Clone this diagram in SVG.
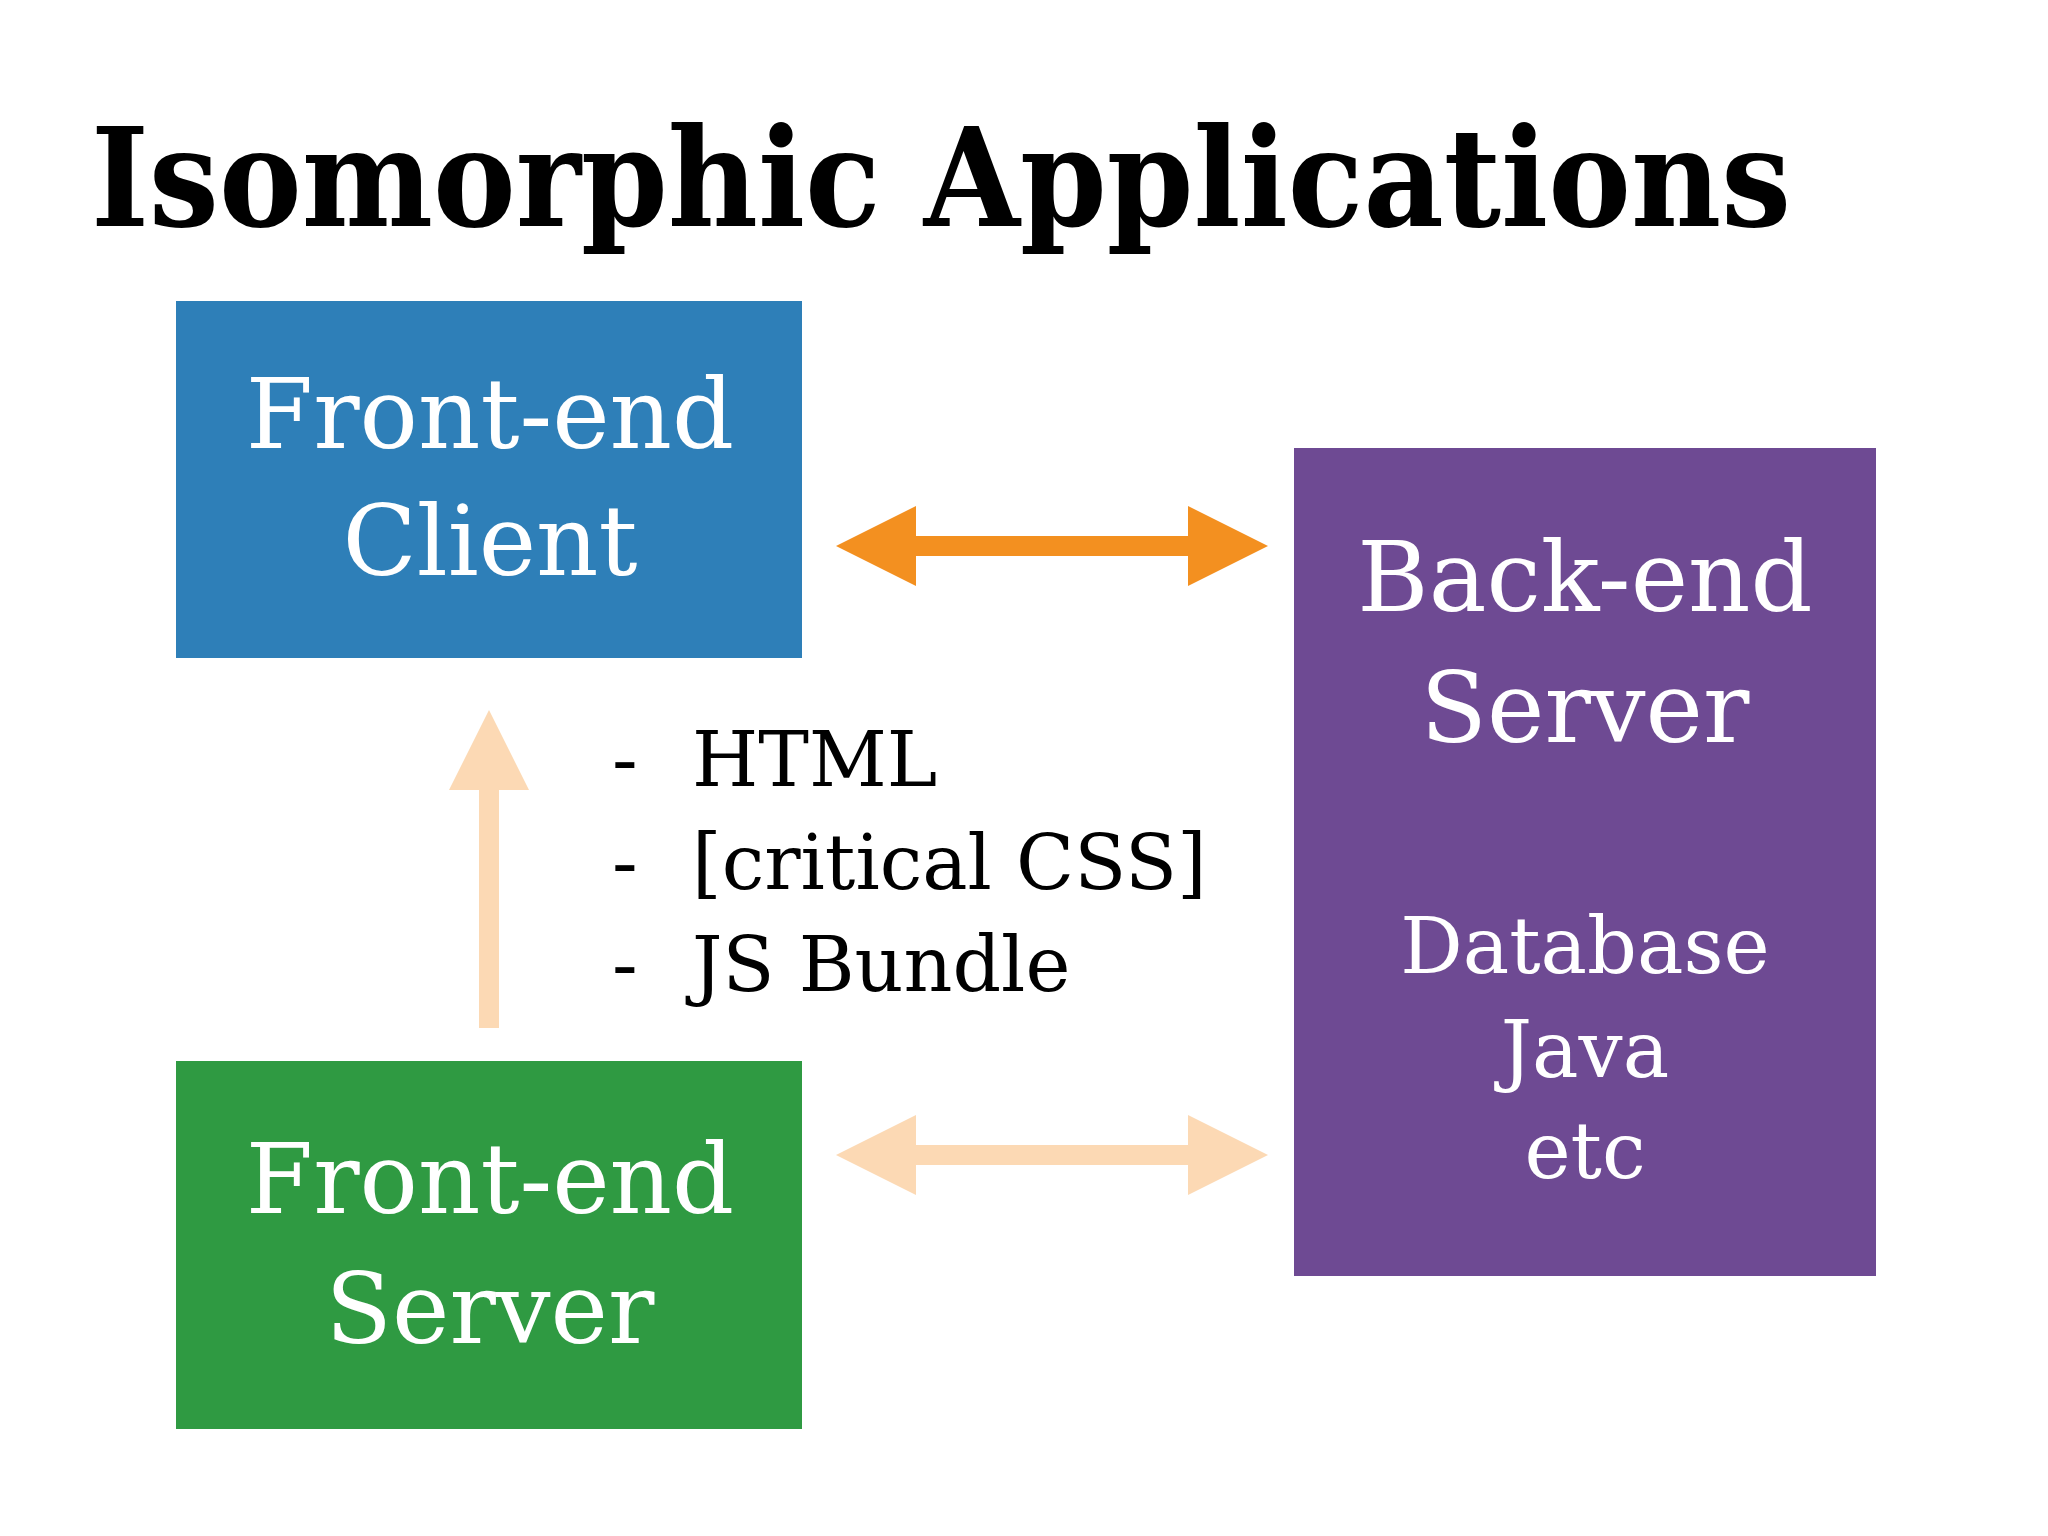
<svg xmlns="http://www.w3.org/2000/svg" width="2048" height="1536" viewBox="0 0 2048 1536">
<style>
.t{font-family:"DejaVu Serif","Liberation Serif",serif;fill:#fff;text-anchor:middle}
.l{font-family:"DejaVu Serif","Liberation Serif",serif;fill:#000;font-size:76px}
</style>
<defs>
<marker id="ho" viewBox="0 0 10 10" refX="6" refY="5" markerWidth="4" markerHeight="4" orient="auto-start-reverse"><path d="M0,0L10,5L0,10z" fill="#f39020"/></marker>
<marker id="hl" viewBox="0 0 10 10" refX="6" refY="5" markerWidth="4" markerHeight="4" orient="auto-start-reverse"><path d="M0,0L10,5L0,10z" fill="#fcd9b4"/></marker>
</defs>
<rect width="2048" height="1536" fill="#fff"/>
<text x="91" y="226" font-family="DejaVu Serif,serif" font-weight="bold" font-size="136" textLength="1700" lengthAdjust="spacingAndGlyphs">Isomorphic Applications</text>
<g id="client"><rect x="176" y="301" width="626" height="357" fill="#2e7fb8"/>
<text class="t" x="490" y="448" font-size="97">Front-end</text><text class="t" x="490" y="575" font-size="97">Client</text></g>
<g id="feserver"><rect x="176" y="1061" width="626" height="368" fill="#2f9a42"/>
<text class="t" x="490" y="1213" font-size="97">Front-end</text><text class="t" x="490" y="1343" font-size="97">Server</text></g>
<g id="backend"><rect x="1294" y="448" width="582" height="828" fill="#6e4a93"/>
<text class="t" x="1585" y="611" font-size="97">Back-end</text><text class="t" x="1585" y="742" font-size="97">Server</text>
<text class="t" x="1585" y="973" font-size="78">Database</text><text class="t" x="1585" y="1077" font-size="78">Java</text><text class="t" x="1585" y="1178" font-size="78">etc</text></g>
<g id="list">
<text class="l" x="612" y="786">-</text><text class="l" x="692" y="786">HTML</text>
<text class="l" x="612" y="889">-</text><text class="l" x="692" y="889">[critical CSS]</text>
<text class="l" x="612" y="991">-</text><text class="l" x="692" y="991">JS Bundle</text>
</g>
<g id="connectors" fill="none" stroke-width="20">
<line x1="868" y1="546" x2="1236" y2="546" stroke="#f39020" marker-start="url(#ho)" marker-end="url(#ho)"/>
<line x1="868" y1="1155" x2="1236" y2="1155" stroke="#fcd9b4" marker-start="url(#hl)" marker-end="url(#hl)"/>
<line x1="489" y1="1028" x2="489" y2="742" stroke="#fcd9b4" marker-end="url(#hl)"/>
</g>
</svg>
